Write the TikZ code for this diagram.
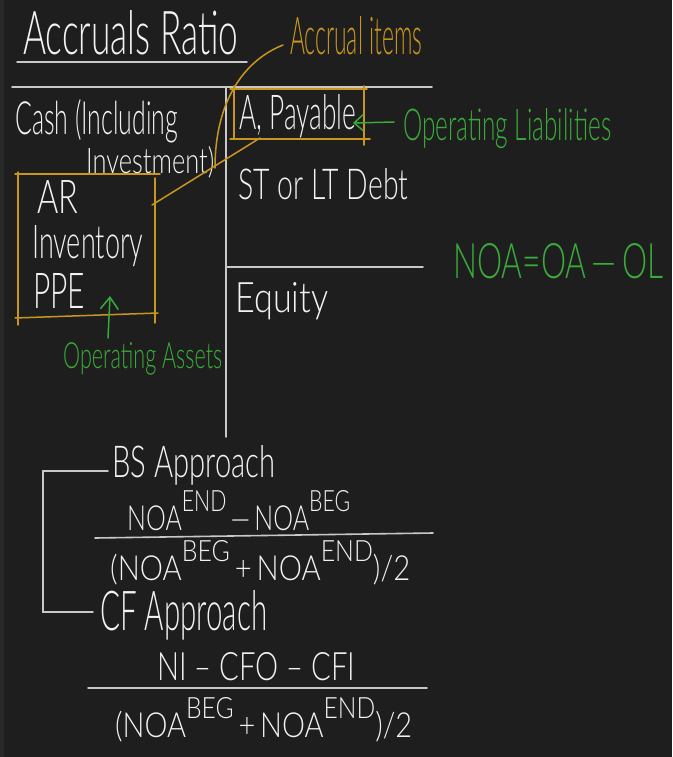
\documentclass[tikz,border=0pt]{standalone}
\usepackage{fontspec}
\setmainfont{Lato Light}
\usepackage{graphicx}
\usetikzlibrary{arrows.meta}
\definecolor{bg}{HTML}{1E1E1E}
\definecolor{strip}{HTML}{282828}
\definecolor{ink}{HTML}{F2F2F2}
\definecolor{rule}{HTML}{C8C8C8}
\definecolor{gold}{HTML}{C8961E}
\definecolor{grn}{HTML}{3AAA3A}
\newcommand\hw[3]{\resizebox{#1pt}{#2pt}{#3}}
\newcommand\sx[1]{\raisebox{0.55em}{\fontsize{8.5}{9}\selectfont #1}}
\tikzset{
  txt/.style={anchor=base west, inner sep=0pt, text=ink},
  gtxt/.style={txt, text=grn},
  otxt/.style={txt, text=gold},
  ruleline/.style={draw=rule, line width=1.6pt, line cap=round},
  goldline/.style={draw=gold, line width=1.5pt, line cap=round},
  grnline/.style={draw=grn, line width=1.5pt, line cap=round},
}
\begin{document}
\begin{tikzpicture}[x=1pt,y=-1pt]
\fill[bg] (0,0) rectangle (672,757);
\fill[strip] (0,0) rectangle (4,757);
\useasboundingbox (0,0) rectangle (672,757);

% texts
\node[txt] (title) at (23,55) {\hw{215}{44}{Accruals Ratio}};
\node[otxt] (accr) at (290,55) {\hw{132}{38}{Accrual items}};
\node[txt] (cash) at (15,134) {\hw{163}{35}{Cash (Including}};
\node[txt] (inv) at (86,173) {\hw{128}{27}{Investment)}};
\node[txt] (ap) at (239,130) {\hw{117}{35}{A, Payable}};
\node[gtxt] (ol) at (403,140) {\hw{208}{32}{Operating Liabilities}};
\node[txt] (debt) at (238,199) {\hw{170}{31}{ST or LT Debt}};
\node[txt] (eq) at (235,312) {\hw{93}{30}{Equity}};
\node[gtxt] (noa) at (453,278) {\hw{210}{35}{NOA=OA\,—\,OL}};
\node[txt] (ar) at (37,213) {\hw{41}{33}{AR}};
\node[txt] (invt) at (32,258) {\hw{111}{33}{Inventory}};
\node[txt] (ppe) at (33,308) {\hw{52}{35}{PPE}};
\node[gtxt] (oa) at (63,368) {\hw{159}{26}{Operating Assets}};
\node[txt] (bs) at (112,477) {\hw{163}{32}{BS Approach}};
\node[txt] (num1) at (127,530) {\hw{223}{40}{NOA\sx{END}\,—\,NOA\sx{BEG}}};
\node[txt] (den1) at (110,580) {\hw{300}{40}{(NOA\sx{BEG}\,+\,NOA\sx{END})/2}};
\node[txt] (cf) at (100,630) {\hw{167}{40}{CF Approach}};
\node[txt] (num2) at (157,680) {\hw{198}{28}{NI – CFO – CFI}};
\node[txt] (den2) at (115,737) {\hw{297}{40}{(NOA\sx{BEG}\,+\,NOA\sx{END})/2}};

% T-account rules
\coordinate (ul1) at (17,62);  \coordinate (ul2) at (247,62);
\coordinate (tl1) at (12,87);  \coordinate (tl2) at (432,87);
\coordinate (vt) at (226,87);  \coordinate (vb) at (226,437);
\coordinate (ml1) at (226,267); \coordinate (ml2) at (423,267);
\draw[ruleline] (ul1) -- (ul2);
\draw[ruleline] (tl1) -- (tl2);
\draw[ruleline] (vt) -- (vb);
\draw[ruleline] (ml1) -- (ml2);

% bracket and fraction bars
\coordinate (b1) at (108,471); \coordinate (b2) at (43,471);
\coordinate (b3) at (43,612);  \coordinate (b4) at (93,612);
\draw[ruleline] (b1) -- (b2) -- (b3) -- (b4);
\coordinate (f1a) at (95,538); \coordinate (f1b) at (433,533);
\coordinate (f2a) at (88,688); \coordinate (f2b) at (427,688);
\draw[ruleline] (f1a) -- (f1b);
\draw[ruleline] (f2a) -- (f2b);

% gold boxes
\draw[goldline] (230,89) -- (367,89);
\draw[goldline] (230,139) -- (370,139);
\draw[goldline] (234,86) -- (234,139);
\draw[goldline] (364,86) -- (364,145);
\draw[goldline] (15,174) -- (160,174);
\draw[goldline] (15,318) -- (158,313);
\draw[goldline] (18,172) -- (18,325);
\draw[goldline] (155,178) -- (155,323);

% gold connectors
\coordinate (c0) at (283,45);
\coordinate (c1) at (215,168);
\draw[goldline] (c0) .. controls (245,60) and (215,100) .. (c1);
\coordinate (d0) at (260,138);
\coordinate (d1) at (152,205);
\draw[goldline] (d0) -- (d1);

% green arrows
\coordinate (g0) at (394,122); \coordinate (g1) at (353,123);
\draw[grnline, -{Straight Barb[length=9pt,width=16pt,line width=1.5pt]}] (g0) -- (g1);
\coordinate (h0) at (108,338); \coordinate (h1) at (110,296);
\draw[grnline, -{Straight Barb[length=12pt,width=18pt,line width=1.5pt]}] (h0) -- (h1);
\end{tikzpicture}
\end{document}
